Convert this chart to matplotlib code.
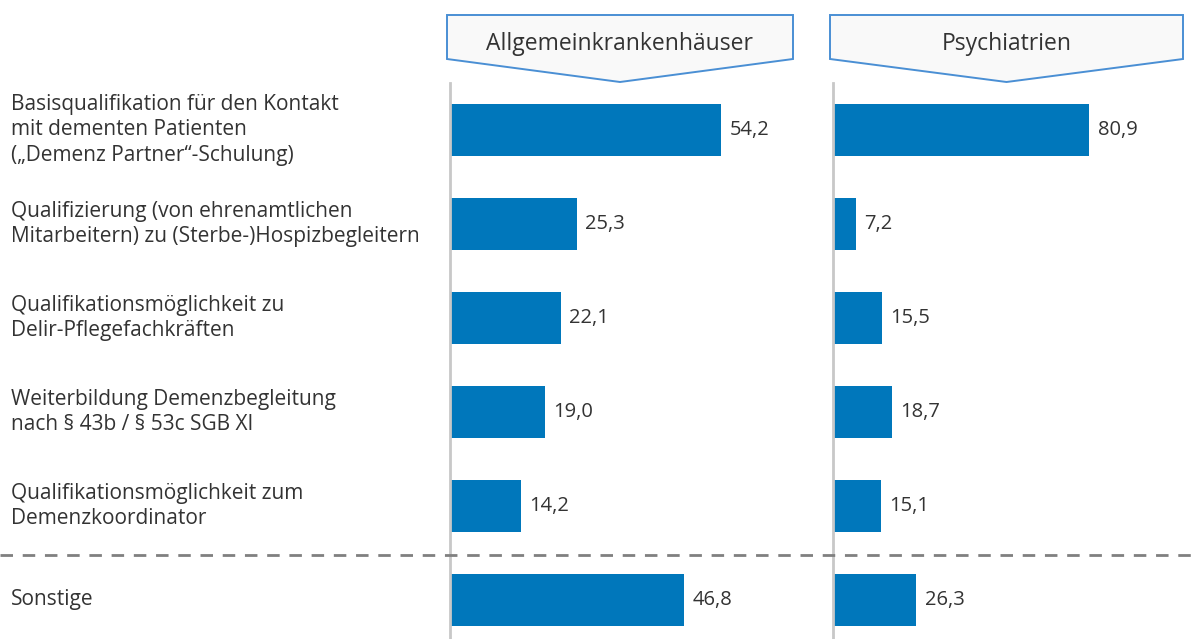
import matplotlib.pyplot as plt
import matplotlib.transforms as mtransforms
from matplotlib.patches import Polygon
from matplotlib.lines import Line2D

plt.rcParams['font.family'] = ['Open Sans', 'DejaVu Sans']

labels = [
    'Basisqualifikation für den Kontakt\nmit dementen Patienten\n(„Demenz Partner“-Schulung)',
    'Qualifizierung (von ehrenamtlichen\nMitarbeitern) zu (Sterbe-)Hospizbegleitern',
    'Qualifikationsmöglichkeit zu\nDelir-Pflegefachkräften',
    'Weiterbildung Demenzbegleitung\nnach § 43b / § 53c SGB XI',
    'Qualifikationsmöglichkeit zum\nDemenzkoordinator',
    'Sonstige',
]
krankenhaus = [54.2, 25.3, 22.1, 19.0, 14.2, 46.8]
psychiatrie = [80.9, 7.2, 15.5, 18.7, 15.1, 26.3]
titles = ['Allgemeinkrankenhäuser', 'Psychiatrien']

W, H = 1193, 639
bar_col = '#0077bb'
txt_col = '#333333'

fig = plt.figure(figsize=(W / 100, H / 100), dpi=100)

def fx(px):
    return px / W

def fy(py):
    return 1 - py / H

ax1 = fig.add_axes([fx(450), 0, fx(795 - 450), fy(83)])
ax2 = fig.add_axes([fx(833), 0, fx(1183 - 833), fy(83)])
ax1.set_xlim(0, 345 / 5.0)
ax2.set_xlim(0, 350 / 3.17)

rows = list(range(len(labels)))
for ax, vals in [(ax1, krankenhaus), (ax2, psychiatrie)]:
    ax.barh(rows, vals, height=0.553, color=bar_col)
    ax.set_ylim(5.415, -0.5)
    for r, v in zip(rows, vals):
        ax.annotate(f'{v:.1f}'.replace('.', ','), (v, r), xytext=(6, 0),
                    textcoords='offset points', va='center', ha='left',
                    fontsize=14.5, color=txt_col)
    for s in ['top', 'right', 'bottom']:
        ax.spines[s].set_visible(False)
    ax.spines['left'].set_color('#c8c8c8')
    ax.spines['left'].set_linewidth(2)
    ax.set_xticks([])
    ax.set_yticks([])
    ax.patch.set_alpha(0)

# category labels
tr = mtransforms.blended_transform_factory(fig.transFigure, ax1.transData)
for r, lab in zip(rows, labels):
    fig.text(fx(11), r, lab, transform=tr, ha='left', va='center',
             fontsize=15, color=txt_col, linespacing=1.28)

# dashed separator
fig.add_artist(Line2D([0, 1], [4.52, 4.52], transform=tr, color='#808080',
                      lw=2, linestyle=(0, (4.5, 3.5))))

# header boxes
for (x0, x1), t in zip([(447, 793), (830, 1183)], titles):
    xm = (x0 + x1) / 2
    pts = [(fx(x0), fy(15)), (fx(x1), fy(15)), (fx(x1), fy(59)),
           (fx(xm), fy(82)), (fx(x0), fy(59))]
    fig.add_artist(Polygon(pts, closed=True, transform=fig.transFigure,
                           facecolor='#f9f9f9', edgecolor='#4a8fd4', lw=1.4))
    fig.text(fx(xm), fy(44), t, ha='center', va='center', fontsize=16.5,
             color=txt_col)

fig.savefig('out.png', dpi=100)
